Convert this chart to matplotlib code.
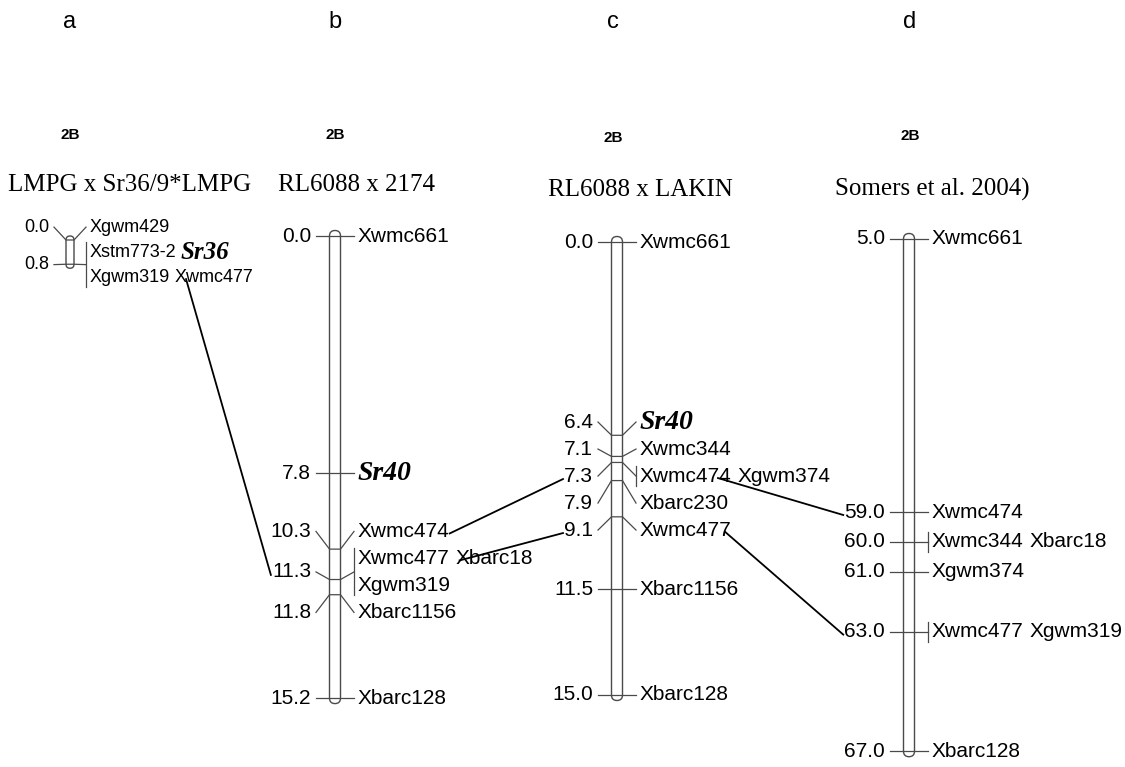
import numpy as np
import matplotlib
matplotlib.use("Agg")
import matplotlib.pyplot as plt
from matplotlib.patches import FancyBboxPatch

W, H = 1125, 767

# headers
panel_ids = ["a", "b", "c", "d"]
chrom_names = ["2B", "2B", "2B", "2B"]
crosses = ["LMPG x Sr36/9*LMPG", "RL6088 x 2174", "RL6088 x LAKIN", "Somers et al. 2004)"]

# loci (cM) and the marker rows printed at each locus
a_pos = [0.0, 0.8]
a_rows = [[["Xgwm429"]],
          [["Xstm773-2", "Sr36"], ["Xgwm319", "Xwmc477"]]]

b_pos = [0.0, 7.8, 10.3, 11.3, 11.8, 15.2]
b_rows = [[["Xwmc661"]], [["Sr40"]], [["Xwmc474"]],
          [["Xwmc477", "Xbarc18"], ["Xgwm319"]],
          [["Xbarc1156"]], [["Xbarc128"]]]

c_pos = [0.0, 6.4, 7.1, 7.3, 7.9, 9.1, 11.5, 15.0]
c_rows = [[["Xwmc661"]], [["Sr40"]], [["Xwmc344"]], [["Xwmc474", "Xgwm374"]],
          [["Xbarc230"]], [["Xwmc477"]], [["Xbarc1156"]], [["Xbarc128"]]]

d_pos = [5.0, 59.0, 60.0, 61.0, 63.0, 67.0]
d_rows = [[["Xwmc661"]], [["Xwmc474"]], [["Xwmc344", "Xbarc18"]], [["Xgwm374"]],
          [["Xwmc477", "Xgwm319"]], [["Xbarc128"]]]

# homologous marker links: (map, marker, map, locus cM)
links = [("a", "Xwmc477", "b", 11.3),
         ("b", "Xwmc474", "c", 7.3),
         ("b", "Xbarc18", "c", 9.1),
         ("c", "Xwmc474", "d", 59.0),
         ("c", "Xwmc477", "d", 63.0)]
# where along the source word each link starts (fraction of word width)
link_anchor = [0.15, 1.0, 0.05, 0.85, 0.93]

maps = {"a": (a_pos, a_rows), "b": (b_pos, b_rows), "c": (c_pos, c_rows), "d": (d_pos, d_rows)}

# layout (pixels)
layout = {
    "a": dict(x=70, top=240, scale=30.3, hw=4, reach=16, head=70, hy=135, tx=130, ty=185,
              fs=13, gfs=18, row=25, wsp=4),
    "b": dict(x=335, top=236, scale=30.4, hw=5.5, reach=19, head=335, hy=135, tx=357, ty=185,
              fs=15, gfs=20, row=27, wsp=6),
    "c": dict(x=617, top=242, scale=30.2, hw=5.5, reach=19, head=613, hy=138, tx=640, ty=190,
              fs=15, gfs=20, row=27, wsp=6),
    "d": dict(x=909, top=239, scale=29.9, hw=5.5, reach=19, head=910, hy=136, tx=932, ty=189,
              fs=15, gfs=20, row=27, wsp=6, gap=(5.0, 59.0, 273)),
}
SANS = "Liberation Sans"
SERIF = "Liberation Serif"
GREY = "#4a4a4a"


def y_of(lay, pos, cm):
    y = lay["top"] + (cm - pos[0]) * lay["scale"]
    if "gap" in lay:
        g0, g1, gpx = lay["gap"]
        inside = np.clip(cm, g0, g1) - g0
        y = y - inside * lay["scale"] + inside * gpx / (g1 - g0)
    return y


def spread(targets, gap):
    groups = [[i] for i in range(len(targets))]

    def place(g):
        mid = (targets[g[0]] + targets[g[-1]]) / 2
        return [mid + (k - (len(g) - 1) / 2) * gap for k in range(len(g))]

    merged = True
    while merged:
        merged = False
        for i in range(len(groups) - 1):
            if place(groups[i])[-1] + gap > place(groups[i + 1])[0] + 1e-6:
                groups[i] = groups[i] + groups.pop(i + 1)
                merged = True
                break
    out = []
    for g in groups:
        out += place(g)
    return out


fig = plt.figure(figsize=(W / 100, H / 100), dpi=100)
ax = fig.add_axes([0, 0, 1, 1])
ax.set_xlim(0, W)
ax.set_ylim(H, 0)
ax.axis("off")
renderer = fig.canvas.get_renderer()

for pid, name, cross in zip(panel_ids, chrom_names, crosses):
    lay = layout[pid]
    ax.text(lay["head"], 22, pid, ha="center", va="center", family=SANS, fontsize=17)
    ax.text(lay["head"], lay["hy"], name, ha="center", va="center", family=SANS,
            fontsize=11, fontweight="bold")
    ax.text(lay["tx"], lay["ty"], cross, ha="center", va="center", family=SERIF, fontsize=18)

words_at = {}   # (map, marker) -> (x0, x1, y)
num_at = {}     # (map, cM) -> (x0, y)

for pid, (pos, rows) in maps.items():
    lay = layout[pid]
    xc, hw, reach = lay["x"], lay["hw"], lay["reach"]
    locus_y = [y_of(lay, pos, p) for p in pos]

    # chromosome bar
    y0, y1 = locus_y[0], locus_y[-1]
    bar = FancyBboxPatch((xc - hw, y0 - hw), 2 * hw, y1 - y0 + 2 * hw,
                         boxstyle=f"round,pad=0,rounding_size={hw}",
                         facecolor="white", edgecolor=GREY, lw=1.0, zorder=2)
    ax.add_patch(bar)

    targets, owner = [], []
    for i, r in enumerate(rows):
        for _ in r:
            targets.append(locus_y[i])
            owner.append(i)
    row_y = spread(targets, lay["row"])

    for i, (p, ly) in enumerate(zip(pos, locus_y)):
        ys = [row_y[k] for k in range(len(owner)) if owner[k] == i]
        lab_y = float(np.mean(ys))
        ax.plot([xc - reach, xc - hw, xc + hw, xc + reach], [lab_y, ly, ly, lab_y],
                color=GREY, lw=0.9, zorder=3)
        if len(ys) > 1 or len(rows[i][0]) > 1:
            ax.plot([xc + reach, xc + reach], [ys[0] - 10, ys[-1] + 10], color=GREY, lw=0.9, zorder=3)
        t = ax.text(xc - reach - 5, lab_y, f"{p:.1f}", ha="right", va="center",
                    family=SANS, fontsize=lay["fs"])
        bb = t.get_window_extent(renderer)
        num_at[(pid, p)] = (bb.x0, lab_y)
        for words, yy in zip(rows[i], ys):
            x = xc + reach + 4
            for w in words:
                if w.startswith("Sr"):
                    tw = ax.text(x, yy, w, ha="left", va="center", family=SERIF,
                                 fontsize=lay["gfs"], fontweight="bold", style="italic")
                else:
                    tw = ax.text(x, yy, w, ha="left", va="center", family=SANS, fontsize=lay["fs"])
                bb = tw.get_window_extent(renderer)
                words_at[(pid, w)] = (bb.x0, bb.x1, yy)
                x = bb.x1 + lay["wsp"]

for (m1, mk, m2, cm), f in zip(links, link_anchor):
    x0, x1, yy = words_at[(m1, mk)]
    sx = x0 + f * (x1 - x0)
    ex, ey = num_at[(m2, cm)]
    ax.plot([sx, ex - 1], [yy + 2, ey + 3], color="black", lw=1.3, zorder=4)

fig.savefig("out.png", dpi=100)
